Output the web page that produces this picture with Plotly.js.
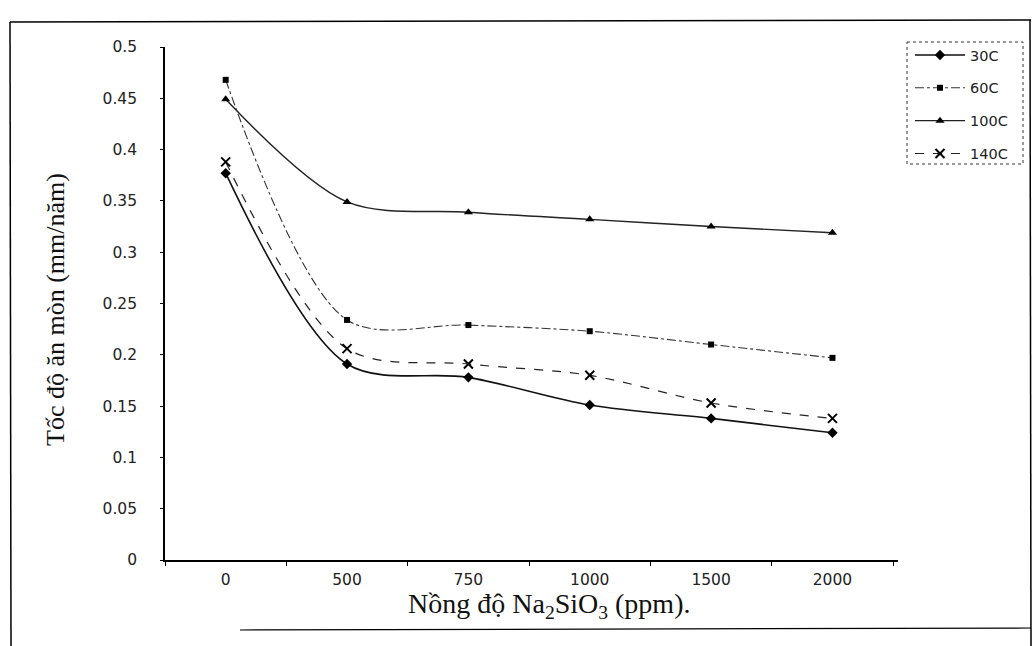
<!DOCTYPE html>
<html>
<head>
<meta charset="utf-8">
<script src="https://cdn.plot.ly/plotly-3.0.1.min.js"></script>
<style>html,body{margin:0;padding:0;background:#fff;}#chart{width:1035px;height:646px;}</style>
</head>
<body>
<div id="chart"></div>
<script>
// ---- data ----
var categories = ["0", "500", "750", "1000", "1500", "2000"];
var seriesNames = ["30C", "60C", "100C", "140C"];
var s30 = [0.377, 0.191, 0.178, 0.151, 0.138, 0.124];
var s60 = [0.468, 0.234, 0.229, 0.223, 0.210, 0.197];
var s100 = [0.449, 0.349, 0.339, 0.332, 0.325, 0.319];
var s140 = [0.388, 0.206, 0.191, 0.180, 0.153, 0.138];
var yTicks = [0, 0.05, 0.1, 0.15, 0.2, 0.25, 0.3, 0.35, 0.4, 0.45, 0.5];
var yTickText = ["0", "0.05", "0.1", "0.15", "0.2", "0.25", "0.3", "0.35", "0.4", "0.45", "0.5"];

// ---- layout helpers (pixel -> paper) ----
var L = 165, R = 898, T = 47, B = 560, W = 1035, H = 646;
function px(x) { return (x - L) / (R - L); }
function py(y) { return (B - y) / (B - T); }

function mk(name, y, dash, width, color, symbol, msize, mline) {
  return {
    type: 'scatter', mode: 'lines+markers', name: name, legendgroup: name,
    x: categories, y: y,
    line: {shape: 'spline', smoothing: 0.9, dash: dash, width: width, color: color},
    marker: {symbol: symbol, size: msize, color: '#000', line: {width: mline, color: '#000'}}
  };
}

var traces = [
  mk(seriesNames[0], s30, 'solid', 1.6, '#111', 'diamond', 8, 0),
  mk(seriesNames[1], s60, 'dashdot', 1.1, '#333', 'square', 6, 0),
  mk(seriesNames[2], s100, 'solid', 1.4, '#222', 'triangle-up', 8, 0),
  mk(seriesNames[3], s140, 'dash', 1.2, '#222', 'x-thin-open', 9, 2)
];

var tickFont = {family: 'DejaVu Sans, Arial, sans-serif', size: 15.5, color: '#222'};

var layout = {
  width: W, height: H,
  paper_bgcolor: '#fff', plot_bgcolor: '#fff',
  margin: {l: L, r: W - R, t: T, b: H - B},
  showlegend: true,
  legend: {
    x: px(910), y: py(39), xanchor: 'left', yanchor: 'top',
    bgcolor: 'rgba(0,0,0,0)', borderwidth: 0,
    font: {family: 'DejaVu Sans, Arial, sans-serif', size: 14.5, color: '#222'},
    tracegroupgap: 11, itemwidth: 50
  },
  xaxis: {
    type: 'category', range: [-0.5, 5.54],
    showline: true, linecolor: '#000', linewidth: 1.5,
    showgrid: false, zeroline: false,
    ticks: 'outside', tickson: 'boundaries', ticklen: 4, tickcolor: '#000',
    tickfont: tickFont, ticklabelstandoff: 5
  },
  yaxis: {
    range: [0, 0.5], tickvals: yTicks, ticktext: yTickText,
    showline: true, linecolor: '#000', linewidth: 1.8,
    showgrid: false, zeroline: false,
    ticks: 'outside', ticklen: 3, tickcolor: '#000',
    tickfont: tickFont, ticklabelstandoff: 20
  },
  annotations: [
    {xref: 'paper', yref: 'paper', x: px(55), y: py(310), xanchor: 'center', yanchor: 'middle',
     textangle: -90, showarrow: false,
     text: 'Tốc độ ăn mòn (mm/năm)',
     font: {family: 'Liberation Serif, Times New Roman, serif', size: 26, color: '#111'}},
    {xref: 'paper', yref: 'paper', x: px(549), y: py(606), xanchor: 'center', yanchor: 'middle',
     showarrow: false,
     text: 'Nồng độ Na<sub>2</sub>SiO<sub>3</sub> (ppm).',
     font: {family: 'Liberation Serif, Times New Roman, serif', size: 28, color: '#111'}}
  ],
  shapes: [
    // scanned outer frame
    {type: 'line', xref: 'paper', yref: 'paper', x0: px(10), x1: px(1031), y0: py(22), y1: py(20), line: {color: '#000', width: 1.5}},
    {type: 'line', xref: 'paper', yref: 'paper', x0: px(10), x1: px(11), y0: py(22), y1: py(646), line: {color: '#000', width: 1.5}},
    {type: 'line', xref: 'paper', yref: 'paper', x0: px(1030), x1: px(1031), y0: py(20), y1: py(646), line: {color: '#000', width: 1.5}},
    {type: 'line', xref: 'paper', yref: 'paper', x0: px(240), x1: px(1031), y0: py(630), y1: py(628), line: {color: '#000', width: 1.2}},
    // legend box
    {type: 'rect', xref: 'paper', yref: 'paper', x0: px(907), x1: px(1023), y0: py(42), y1: py(164),
     line: {color: '#333', width: 1, dash: 'dot'}}
  ]
};

Plotly.newPlot('chart', traces, layout, {staticPlot: true, displayModeBar: false});
</script>
</body>
</html>
